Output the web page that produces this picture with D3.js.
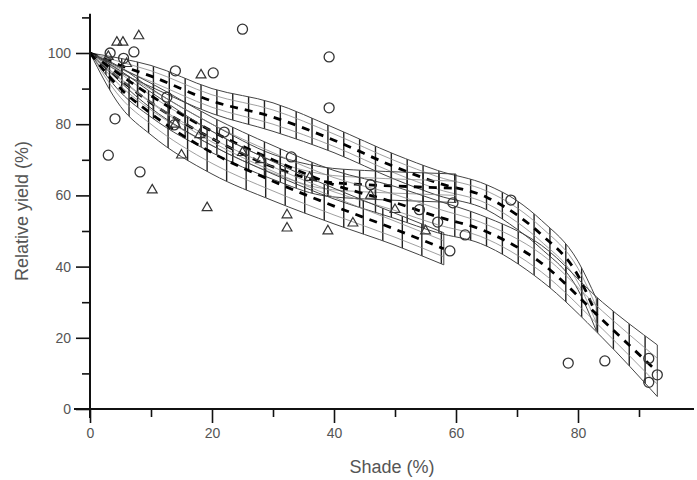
<!DOCTYPE html>
<html>
<head>
<meta charset="utf-8">
<script src="https://cdn.jsdelivr.net/npm/d3@7"></script>
<style>
  body { margin: 0; background: #fff; }
  svg { display: block; font-family: "Liberation Sans", Arial, sans-serif; }
  .tick text { fill: #555; font-size: 14px; }
</style>
</head>
<body>
<svg width="697" height="480"></svg>
<script>
// observed points
const circleX = [3, 3.3, 4.1, 5.5, 7.2, 8.2, 12.6, 13.8, 14, 20.2, 22, 25, 33, 39.2, 39.2, 46, 54, 57, 59, 59.5, 61.5, 69, 78.4, 84.4, 91.6, 91.6, 93];
const circleY = [71.3, 100, 81.5, 98.5, 100.3, 66.6, 87.6, 79.8, 95, 94.4, 77.8, 106.7, 70.8, 98.9, 84.6, 63, 56, 52.5, 44.4, 57.9, 48.9, 58.7, 12.9, 13.5, 14.2, 7.5, 9.6];
const triX = [3, 4.4, 5.4, 6, 8, 10.2, 14, 15, 18, 18.2, 19.2, 25, 28, 32.3, 32.3, 36, 39, 43.1, 46, 50, 55];
const triY = [99, 103, 103, 97, 104.8, 61.5, 80, 71.3, 77, 93.8, 56.5, 72, 70, 54.5, 50.8, 65, 50, 52.2, 60, 56, 50];

// fitted curves with confidence bands (x, lower, fit, upper)
const bandAX   = [0, 5, 10, 20, 30, 40, 50, 57, 65, 70, 74, 80, 83];
const bandALo  = [100, 94.5, 90.5, 83, 78, 72, 64.5, 60, 56, 50.5, 45, 33.5, 22];
const bandAFit = [100, 96.5, 93.5, 86.5, 82, 75.5, 68, 63.5, 59.5, 54.5, 49, 37.5, 26.5];
const bandAHi  = [100, 98.5, 96.5, 90, 86, 79, 71.5, 67, 63, 58.5, 53, 41.5, 31];

const bandSX   = [0, 5, 10, 20, 30, 38, 45, 52, 60];
const bandSLo  = [100, 89, 82, 72, 64.5, 60, 59, 58.5, 58];
const bandSFit = [100, 92.5, 86, 76, 68, 64, 63, 62.5, 62];
const bandSHi  = [100, 96, 90, 80, 71.5, 68, 67, 66.5, 66];

const bandLX   = [0, 10, 20, 30, 40, 50, 57, 64, 74, 84, 93];
const bandLLo  = [100, 84.5, 74, 66, 59, 53.5, 49.5, 46.5, 36, 20, 3.5];
const bandLFit = [100, 88, 78, 70, 63, 58, 54, 50.5, 41, 25, 10.5];
const bandLHi  = [100, 91.5, 82, 74, 67, 62.5, 58.5, 54.5, 46, 30, 18];

const bandDX   = [0, 5, 10, 20, 30, 40, 50, 58];
const bandDLo  = [100, 85, 77, 66, 58.5, 52, 46, 40.5];
const bandDFit = [100, 90, 83, 72, 64, 57, 50.5, 45];
const bandDHi  = [100, 95, 89, 78, 69.5, 62, 55, 49.5];

const xMajor = [0, 20, 40, 60, 80];
const xMinor = [10, 30, 50, 70, 90];
const yMajor = [0, 20, 40, 60, 80, 100];
const yMinor = [10, 30, 50, 70, 90, 110];

const svg = d3.select("svg");
const x = d3.scaleLinear().domain([0, 100]).range([90, 700]);
const y = d3.scaleLinear().domain([0, 100]).range([409, 53]);

const bands = [
  {id: "a", xs: bandAX, lo: bandALo, fit: bandAFit, hi: bandAHi, step: 2.6},
  {id: "s", xs: bandSX, lo: bandSLo, fit: bandSFit, hi: bandSHi, step: 2.6},
  {id: "l", xs: bandLX, lo: bandLLo, fit: bandLFit, hi: bandLHi, step: 2.6},
  {id: "d", xs: bandDX, lo: bandDLo, fit: bandDFit, hi: bandDHi, step: 3.2}
];

const defs = svg.append("defs");
const g = svg.append("g");

bands.forEach(b => {
  const pts = b.xs.map((v, i) => ({x: v, lo: b.lo[i], fit: b.fit[i], hi: b.hi[i]}));
  const area = d3.area().curve(d3.curveMonotoneX)
    .x(d => x(d.x)).y0(d => y(d.lo)).y1(d => y(d.hi));
  const line = key => d3.line().curve(d3.curveMonotoneX)
    .x(d => x(d.x)).y(d => y(typeof key === "function" ? key(d) : d[key]));

  defs.append("clipPath").attr("id", "clip-" + b.id)
    .append("path").attr("d", area(pts));

  // vertical hatching clipped to the band
  g.append("g").attr("clip-path", `url(#clip-${b.id})`)
    .selectAll("line")
    .data(d3.range(b.xs[0] + b.step, b.xs[b.xs.length - 1], b.step))
    .join("line")
    .attr("x1", d => x(d)).attr("x2", d => x(d))
    .attr("y1", y(110)).attr("y2", y(0))
    .attr("stroke", "#222").attr("stroke-width", 1.4);

  // band outline and closing edge
  g.append("path").attr("d", area(pts))
    .attr("fill", "none").attr("stroke", "#444").attr("stroke-width", 1);

  // inner lines
  [d => (d.lo + d.fit) / 2, d => (d.hi + d.fit) / 2].forEach(fn => {
    g.append("path").datum(pts).attr("d", line(fn))
      .attr("fill", "none").attr("stroke", "#888").attr("stroke-width", 0.8);
  });

  // fitted curve, dashed
  g.append("path").datum(pts).attr("d", line("fit"))
    .attr("fill", "none").attr("stroke", "#000")
    .attr("stroke-width", 2.8).attr("stroke-dasharray", "8 7");
});

// points
g.selectAll(".circ")
  .data(circleX.map((v, i) => [v, circleY[i]]))
  .join("circle").attr("class", "circ")
  .attr("cx", d => x(d[0])).attr("cy", d => y(d[1])).attr("r", 5)
  .attr("fill", "none").attr("stroke", "#333").attr("stroke-width", 1.3);

const tri = d3.symbol().type(d3.symbolTriangle).size(42);
g.selectAll(".tri")
  .data(triX.map((v, i) => [v, triY[i]]))
  .join("path").attr("class", "tri")
  .attr("transform", d => `translate(${x(d[0])},${y(d[1])})`)
  .attr("d", tri)
  .attr("fill", "none").attr("stroke", "#333").attr("stroke-width", 1.2);

// axes
const yAxis = svg.append("g").attr("transform", `translate(${x(0)},0)`);
yAxis.call(d3.axisLeft(y).tickValues(yMajor).tickSize(14).tickPadding(5));
yAxis.append("g").call(d3.axisLeft(y).tickValues(yMinor).tickSize(8).tickFormat(""));
yAxis.selectAll(".domain").remove();
yAxis.append("line").attr("y1", y(111)).attr("y2", y(-2.5))
  .attr("stroke", "#111").attr("stroke-width", 2);

const xAxis = svg.append("g").attr("transform", `translate(0,${y(0)})`);
xAxis.call(d3.axisBottom(x).tickValues(xMajor).tickSize(14).tickPadding(5));
xAxis.append("g").call(d3.axisBottom(x).tickValues(xMinor).tickSize(8).tickFormat(""));
xAxis.selectAll(".domain").remove();
xAxis.append("line").attr("x1", 74).attr("x2", 694)
  .attr("stroke", "#111").attr("stroke-width", 2.2);

svg.selectAll(".tick line").attr("stroke", "#111").attr("stroke-width", 1.6);
svg.selectAll(".tick text").attr("fill", "#555").style("font-size", "14px");

svg.append("text")
  .attr("x", 392).attr("y", 473)
  .attr("text-anchor", "middle")
  .attr("fill", "#555").style("font-size", "18px")
  .text("Shade (%)");

svg.append("text")
  .attr("transform", "translate(28,211) rotate(-90)")
  .attr("text-anchor", "middle")
  .attr("fill", "#555").style("font-size", "18px")
  .text("Relative yield (%)");
</script>
</body>
</html>
